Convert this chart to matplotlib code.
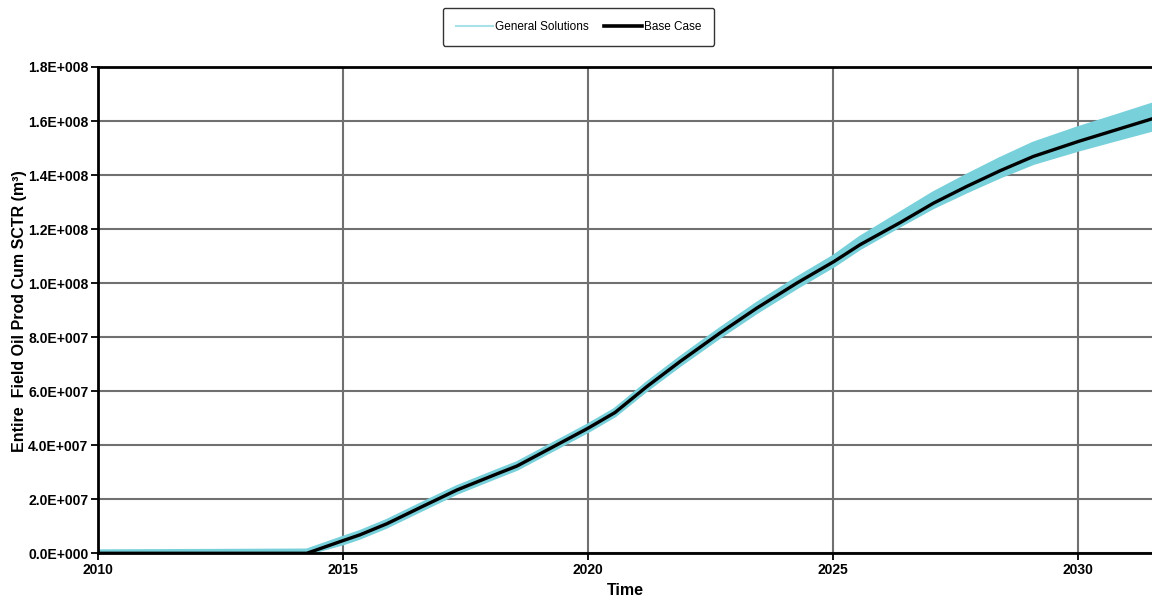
import matplotlib
matplotlib.use("Agg")
import matplotlib.pyplot as plt
from matplotlib.lines import Line2D
import numpy as np

plt.rcParams['font.family'] = ['Liberation Sans', 'DejaVu Sans']

years = [2010.0, 2014.26, 2015.0, 2015.34, 2015.89, 2016.64, 2017.32, 2018.17, 2018.55, 2019.36,
         2020.0, 2020.55, 2021.2, 2021.88, 2022.69, 2023.44, 2024.26, 2025.02, 2025.55, 2026.37,
         2027.05, 2027.73, 2028.41, 2029.09, 2030.0, 2030.79, 2031.51]
# Base Case cumulative oil (1e7 m3)
base = [0.0, 0.0, 0.47, 0.68, 1.09, 1.75, 2.34, 2.96, 3.23, 4.01,
        4.63, 5.21, 6.17, 7.1, 8.15, 9.07, 10.0, 10.8, 11.42, 12.24,
        12.96, 13.58, 14.16, 14.69, 15.24, 15.68, 16.08]
# General Solutions envelope (1e7 m3)
upper = [0.07, 0.1, 0.57, 0.78, 1.19, 1.85, 2.44, 3.06, 3.33, 4.11,
         4.73, 5.31, 6.28, 7.22, 8.28, 9.22, 10.16, 10.98, 11.67, 12.57,
         13.32, 13.97, 14.59, 15.16, 15.73, 16.18, 16.6]
lower = [0.0, 0.0, 0.37, 0.58, 0.99, 1.65, 2.24, 2.86, 3.13, 3.91,
         4.53, 5.11, 6.06, 6.98, 8.02, 8.93, 9.85, 10.66, 11.3, 12.14,
         12.82, 13.4, 13.95, 14.45, 14.94, 15.33, 15.68]
ytick_vals = [0, 2e7, 4e7, 6e7, 8e7, 1e8, 1.2e8, 1.4e8, 1.6e8, 1.8e8]
ytick_labels = ['0.0E+000', '2.0E+007', '4.0E+007', '6.0E+007', '8.0E+007',
                '1.0E+008', '1.2E+008', '1.4E+008', '1.6E+008', '1.8E+008']
xtick_vals = [2010, 2015, 2020, 2025, 2030]

scale = 1e7
yb = np.array(base) * scale
yl = np.array(lower) * scale
yu = np.array(upper) * scale

band_color = '#77d0da'
fig = plt.figure(figsize=(11.52, 5.97), dpi=100)
ax = fig.add_axes([0.0851, 0.0732, 0.9149, 0.8146])

ax.fill_between(years, yl, yu, color=band_color, lw=0, zorder=2)
ax.plot(years, yl, color=band_color, lw=3, zorder=2)
ax.plot(years, yu, color=band_color, lw=3, zorder=2)
ax.plot(years, yb, color='black', lw=2.4, zorder=3)

ax.set_xlim(2010, 2031.51)
ax.set_ylim(0, 1.8e8)
ax.set_xticks(xtick_vals)
ax.set_yticks(ytick_vals)
ax.set_yticklabels(ytick_labels)

ax.grid(True, color='#707070', lw=1.5, zorder=1)
ax.set_axisbelow(True)
for s in ['top', 'left', 'bottom']:
    ax.spines[s].set_linewidth(2)
    ax.spines[s].set_color('black')
    ax.spines[s].set_zorder(4)
ax.spines['right'].set_visible(False)
ax.tick_params(axis='both', direction='out', length=5, width=1.3, labelsize=10)
ax.tick_params(axis='x', pad=2)
ax.tick_params(axis='y', pad=2)
for lab in ax.get_xticklabels() + ax.get_yticklabels():
    lab.set_fontweight('bold')

ax.set_xlabel('Time', fontsize=11.5, fontweight='bold', labelpad=4)
ax.set_ylabel('Entire  Field Oil Prod Cum SCTR (m\u00b3)', fontsize=11.5, fontweight='bold')
ax.yaxis.set_label_coords(-0.0673, 0.497)

handles = [Line2D([], [], color='#a8e2e8', lw=1.5), Line2D([], [], color='black', lw=2.6)]
fig.legend(handles, ['General Solutions', 'Base Case'], loc='upper center',
           bbox_to_anchor=(0.502, 0.987), ncol=2, fontsize=8.5, frameon=True,
           edgecolor='black', fancybox=True, handlelength=3.2, borderpad=1.1,
           columnspacing=1.3, handletextpad=0.15, borderaxespad=0)

fig.savefig('out.png', dpi=100)
